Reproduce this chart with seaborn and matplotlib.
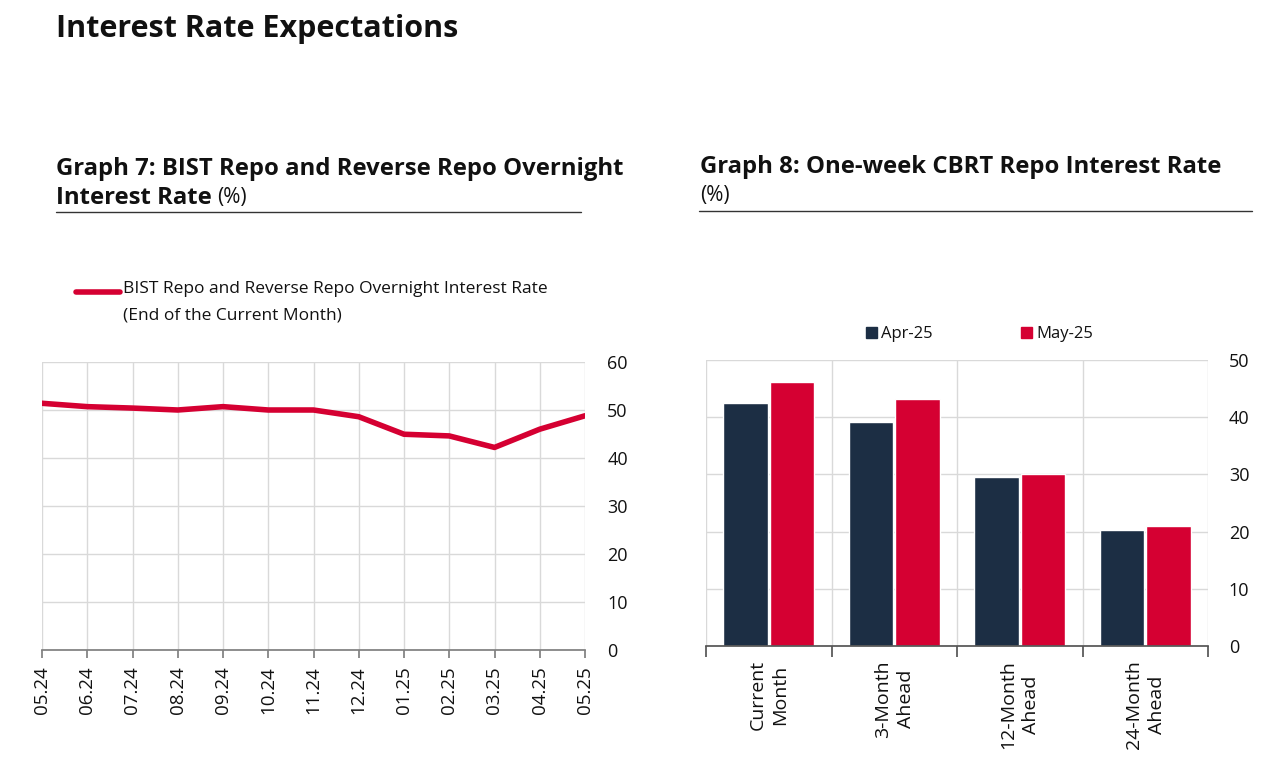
import numpy as np
import pandas as pd
import matplotlib
matplotlib.use("Agg")
from matplotlib import pyplot as plt
from matplotlib.lines import Line2D
from matplotlib.patches import Patch
import seaborn as sns

months = ["05.24", "06.24", "07.24", "08.24", "09.24", "10.24", "11.24",
          "12.24", "01.25", "02.25", "03.25", "04.25", "05.25"]
repo_rate = [51.4, 50.7, 50.4, 50.0, 50.7, 50.0, 50.0, 48.6, 44.95, 44.6, 42.2, 46.0, 48.8]

horizons = ["Current\nMonth", "3-Month\nAhead", "12-Month\nAhead", "24-Month\nAhead"]
apr25 = [42.5, 39.2, 29.5, 20.3]
may25 = [46.1, 43.1, 30.05, 20.9]
survey_labels = ["Apr-25", "May-25"]

red = "#D50032"
navy = "#1C2E44"
grid_col = "#D9D9D9"
ink = "#111111"

sns.set_theme(style="white")
plt.rcParams["font.family"] = ["Open Sans", "DejaVu Sans"]
plt.rcParams["text.color"] = ink
plt.rcParams["xtick.labelcolor"] = ink
plt.rcParams["ytick.labelcolor"] = ink

fig = plt.figure(figsize=(12.8, 7.8), dpi=100)

fig.text(56/1280, 1-29/780, "Interest Rate Expectations", fontsize=22, fontweight="bold",
         va="center", ha="left")

# ---- Graph 7 ----
ax1 = fig.add_axes([42/1280, 1-650/780, 543/1280, 288/780])
line_df = pd.DataFrame({"month": months, "rate": repo_rate})
sns.lineplot(data=line_df, x="month", y="rate", ax=ax1, color=red, linewidth=4, sort=False)
ax1.set_xlim(0, len(months)-1)
ax1.set_ylim(0, 60)
ax1.set_yticks(range(0, 61, 10))
ax1.yaxis.tick_right()
ax1.tick_params(axis="x", length=6, color="#808080", labelsize=13.5, rotation=90, bottom=True, pad=6)
ax1.grid(True, color=grid_col, linewidth=1)
for s in ["top", "left", "right"]:
    ax1.spines[s].set_visible(False)
ax1.spines["bottom"].set_color("#808080")
ax1.set_xlabel("")
ax1.set_ylabel("")
ax1.tick_params(axis="y", length=0, labelsize=13, pad=16)

fig.text(56/1280, 1-169/780, "Graph 7: BIST Repo and Reverse Repo Overnight", fontsize=17.2,
         fontweight="bold", va="center")
fig.text(56/1280, 1-198/780, "Interest Rate", fontsize=17.2, fontweight="bold", va="center")
fig.text(217/1280, 1-198/780, "(%)", fontsize=15, va="center")
fig.add_artist(Line2D([56/1280, 581/1280], [1-212/780, 1-212/780], color="#333333", linewidth=1))

fig.add_artist(Line2D([76/1280, 120/1280], [1-292/780, 1-292/780], color=red, linewidth=4,
                      solid_capstyle="round"))
fig.text(123/1280, 1-289/780, "BIST Repo and Reverse Repo Overnight Interest Rate", fontsize=12.5,
         va="center")
fig.text(123/1280, 1-315/780, "(End of the Current Month)", fontsize=12.5, va="center")

# ---- Graph 8 ----
ax2 = fig.add_axes([706/1280, 1-646/780, 502/1280, 286/780])
bar_df = pd.DataFrame({
    "horizon": horizons * 2,
    "value": apr25 + may25,
    "survey": [survey_labels[0]] * 4 + [survey_labels[1]] * 4,
})
sns.barplot(data=bar_df, x="horizon", y="value", hue="survey", ax=ax2,
            palette=[navy, red], width=0.74, gap=0.04, legend=False, saturation=1)
ax2.set_xlim(-0.5, 3.5)
ax2.set_ylim(0, 50)
ax2.set_yticks(range(0, 51, 10))
ax2.yaxis.tick_right()
ax2.set_xticks([-0.5, 0.5, 1.5, 2.5, 3.5])
ax2.set_xticklabels([])
ax2.tick_params(axis="x", which="major", length=8, color="#555555", bottom=True)
ax2.set_xticks(range(4), minor=True)
ax2.set_xticklabels(horizons, minor=True, rotation=90, fontsize=14, linespacing=1.35)
ax2.tick_params(axis="x", which="minor", length=0, pad=10)
ax2.grid(True, which="major", color=grid_col, linewidth=1)
ax2.set_axisbelow(True)
for s in ["top", "left", "right"]:
    ax2.spines[s].set_visible(False)
ax2.spines["bottom"].set_color("#555555")
ax2.set_xlabel("")
ax2.set_ylabel("")
ax2.tick_params(axis="y", which="major", length=0, labelsize=13, pad=15)

fig.text(700/1280, 1-167/780, "Graph 8: One-week CBRT Repo Interest Rate", fontsize=17.2,
         fontweight="bold", va="center")
fig.text(700/1280, 1-196/780, "(%)", fontsize=15, va="center")
fig.add_artist(Line2D([699/1280, 1252/1280], [1-211/780, 1-211/780], color="#333333", linewidth=1))

handles = [Patch(color=navy), Patch(color=red)]
fig.legend(handles, survey_labels, loc="center left", bbox_to_anchor=(866/1280, 1-334/780), ncol=2,
           frameon=False, fontsize=12, handlelength=0.65, handleheight=0.65, handletextpad=0.25,
           columnspacing=5.3, borderaxespad=0, borderpad=0)

fig.savefig("out.png", dpi=100)
